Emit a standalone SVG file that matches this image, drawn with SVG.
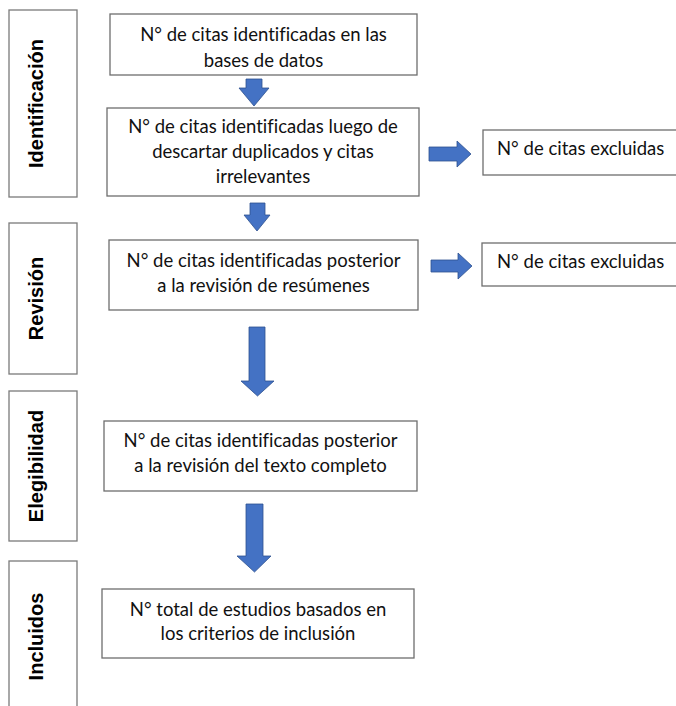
<svg xmlns="http://www.w3.org/2000/svg" width="676" height="706" viewBox="0 0 676 706">
<style>
.bg{fill:#ffffff}
.box{fill:#ffffff;stroke:#6e6e6e;stroke-width:1.3}
.side{fill:#ffffff;stroke:#7a7a7a;stroke-width:1.3}
.t{font-family:Lato,"Open Sans","Noto Sans",sans-serif;font-size:18.5px;fill:#111111;text-anchor:middle;font-variant-ligatures:none}
.tl{font-family:Lato,"Open Sans","Noto Sans",sans-serif;font-size:18.5px;fill:#111111;font-variant-ligatures:none}
.st{font-family:"Liberation Sans",Arial,sans-serif;font-size:20px;font-weight:bold;fill:#000000;text-anchor:middle}
.arr{fill:#4472C4;stroke:#2F528F;stroke-width:0.8}
</style>
<rect class="bg" x="0" y="0" width="676" height="706"/>
<g id="stage-identificacion">
<rect class="side" x="9" y="10" width="68" height="187"/>
<text class="st" transform="translate(43,103.5) rotate(-90)">Identificación</text>
</g>
<g id="stage-revision">
<rect class="side" x="9" y="223" width="68" height="151"/>
<text class="st" transform="translate(43,298.5) rotate(-90)">Revisión</text>
</g>
<g id="stage-elegibilidad">
<rect class="side" x="9" y="391" width="68" height="150"/>
<text class="st" transform="translate(43,466) rotate(-90)">Elegibilidad</text>
</g>
<g id="stage-incluidos">
<rect class="side" x="9" y="561" width="68" height="160"/>
<text class="st" transform="translate(43,636.5) rotate(-90)">Incluidos</text>
</g>
<g id="box1">
<rect class="box" x="110" y="14" width="307" height="61"/>
<text class="t" x="263.5" y="41">N° de citas identificadas en las</text>
<text class="t" x="263.5" y="67">bases de datos</text>
</g>
<g id="box2">
<rect class="box" x="107" y="108" width="312" height="88"/>
<text class="t" x="263" y="133">N° de citas identificadas luego de</text>
<text class="t" x="263" y="158">descartar duplicados y citas</text>
<text class="t" x="263" y="183">irrelevantes</text>
</g>
<g id="excl1">
<rect class="box" x="483" y="130" width="210" height="45"/>
<text class="tl" x="497" y="155">N° de citas excluidas</text>
</g>
<g id="box3">
<rect class="box" x="109" y="240" width="309" height="70"/>
<text class="t" x="263.5" y="267">N° de citas identificadas posterior</text>
<text class="t" x="263.5" y="292">a la revisión de resúmenes</text>
</g>
<g id="excl2">
<rect class="box" x="482" y="243" width="210" height="43"/>
<text class="tl" x="497" y="268">N° de citas excluidas</text>
</g>
<g id="box4">
<rect class="box" x="104" y="421" width="313" height="70"/>
<text class="t" x="260.5" y="447">N° de citas identificadas posterior</text>
<text class="t" x="260.5" y="472">a la revisión del texto completo</text>
</g>
<g id="box5">
<rect class="box" x="102" y="589" width="312" height="69"/>
<text class="t" x="258" y="616">N° total de estudios basados en</text>
<text class="t" x="258" y="640">los criterios de inclusión</text>
</g>
<g id="connectors">
<polygon class="arr" points="246,79 262,79 262,88 269,88 254,106 239,88 246,88"/>
<polygon class="arr" points="250,203 265,203 265,215 270,215 257,231 244,215 250,215"/>
<polygon class="arr" points="249,327 265,327 265,381 274,381 257.5,396 241,381 249,381"/>
<polygon class="arr" points="246,504 263,504 263,556 271,556 254.5,572 237,556 246,556"/>
<polygon class="arr" points="429,147 457,147 457,141 471,154 457,167 457,161 429,161"/>
<polygon class="arr" points="431,260 458,260 458,253 472,266 458,279 458,272 431,272"/>
</g>
</svg>
